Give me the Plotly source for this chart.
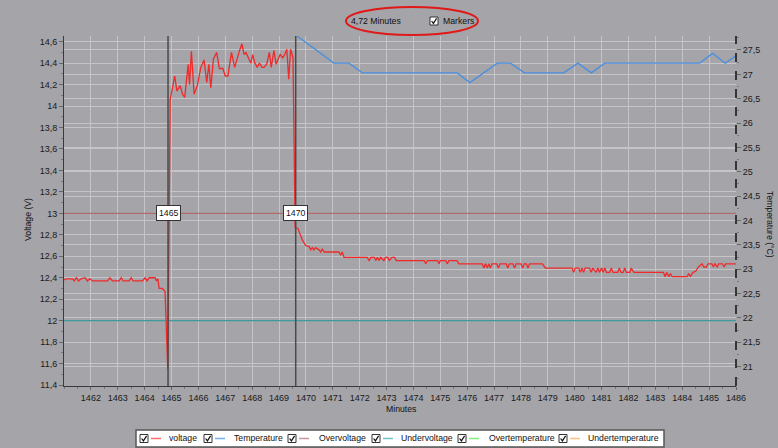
import plotly.graph_objects as go

# ---------------- data ----------------
volt_minutes = [
    1461.00, 1461.07, 1461.32, 1461.38, 1461.46, 1461.54, 1461.63, 1461.79, 1461.87, 1461.96,
    1462.06, 1462.62, 1462.71, 1462.80, 1463.05, 1463.13, 1463.20, 1463.42, 1463.50, 1463.57,
    1463.92, 1464.02, 1464.09, 1464.17, 1464.39, 1464.44, 1464.49, 1464.54, 1464.66, 1464.76,
    1464.86, 1464.95,
    1465.12, 1465.20, 1465.32, 1465.41, 1465.49, 1465.62, 1465.67, 1465.74, 1465.84, 1465.96,
    1466.09, 1466.21, 1466.31, 1466.39, 1466.46, 1466.56, 1466.68, 1466.78, 1466.91, 1467.00,
    1467.10, 1467.23, 1467.35, 1467.43, 1467.52, 1467.62, 1467.70, 1467.77, 1467.85, 1467.95,
    1468.02, 1468.10, 1468.19, 1468.27, 1468.37, 1468.44, 1468.54, 1468.64, 1468.71, 1468.81,
    1468.89, 1469.04, 1469.14, 1469.21, 1469.29, 1469.36, 1469.43, 1469.52, 1469.60,
    1469.70, 1469.87, 1469.99, 1470.12, 1470.18, 1470.24, 1470.30, 1470.36, 1470.49, 1470.55,
    1470.61, 1470.68, 1471.23, 1471.29, 1471.35, 1471.42, 1472.28, 1472.35, 1472.42, 1472.55,
    1472.60, 1472.66, 1472.72, 1472.78, 1472.90, 1472.96, 1473.05, 1473.10, 1473.20, 1473.30,
    1473.36, 1473.47, 1474.40, 1474.46, 1474.52, 1474.90, 1474.95, 1475.00, 1475.20, 1475.26,
    1475.32, 1475.62, 1475.69, 1476.56, 1476.62, 1476.68, 1476.75, 1476.80, 1476.86, 1476.92,
    1477.10, 1477.16, 1477.22, 1477.45, 1477.51, 1477.57, 1477.70, 1477.76, 1477.82, 1478.00,
    1478.06, 1478.12, 1478.20, 1478.26, 1478.32, 1478.80, 1478.91, 1479.90, 1479.96, 1480.02,
    1480.15, 1480.21, 1480.27, 1480.33, 1480.39, 1480.55, 1480.61, 1480.67, 1480.80, 1480.86,
    1480.92, 1481.00, 1481.06, 1481.12, 1481.18, 1481.30, 1481.36, 1481.42, 1481.60, 1481.66,
    1481.72, 1481.80, 1481.86, 1481.92, 1482.05, 1482.10, 1482.20, 1483.30, 1483.36, 1483.42,
    1483.50, 1483.56, 1483.62, 1484.18, 1484.24, 1484.30, 1484.40, 1484.50, 1484.60, 1484.74,
    1484.80, 1484.90, 1484.96, 1485.10, 1485.16, 1485.22, 1485.30, 1485.36, 1485.50, 1485.56,
    1485.62, 1486.00,
]
voltage = [
    12.38, 12.39, 12.39, 12.37, 12.40, 12.37, 12.39, 12.40, 12.37, 12.39,
    12.37, 12.37, 12.40, 12.37, 12.37, 12.40, 12.37, 12.37, 12.40, 12.37,
    12.37, 12.40, 12.37, 12.40, 12.40, 12.37, 12.39, 12.30, 12.30, 12.27,
    11.55, 14.06,
    14.28, 14.14, 14.19, 14.11, 14.08, 14.39, 14.20, 14.51, 14.11, 14.19,
    14.36, 14.43, 14.22, 14.39, 14.17, 14.44, 14.50, 14.35, 14.35, 14.28,
    14.28, 14.50, 14.36, 14.44, 14.51, 14.58, 14.48, 14.50, 14.45, 14.40,
    14.48, 14.40, 14.36, 14.40, 14.36, 14.36, 14.39, 14.50, 14.36, 14.52,
    14.39, 14.48, 14.45, 14.48, 14.53, 14.25, 14.53, 14.45, 12.87,
    12.86, 12.75, 12.70, 12.69, 12.66, 12.68, 12.66, 12.68, 12.66, 12.64,
    12.67, 12.64, 12.64, 12.61, 12.64, 12.59, 12.59, 12.56, 12.59, 12.59,
    12.56, 12.59, 12.56, 12.59, 12.56, 12.59, 12.59, 12.56, 12.59, 12.59,
    12.56, 12.56, 12.56, 12.53, 12.56, 12.56, 12.53, 12.56, 12.56, 12.53,
    12.56, 12.56, 12.53, 12.53, 12.49, 12.53, 12.49, 12.53, 12.49, 12.53,
    12.53, 12.49, 12.53, 12.53, 12.49, 12.53, 12.53, 12.49, 12.53, 12.53,
    12.49, 12.53, 12.53, 12.49, 12.53, 12.53, 12.49, 12.49, 12.45, 12.49,
    12.49, 12.45, 12.49, 12.45, 12.49, 12.49, 12.45, 12.49, 12.45, 12.49,
    12.45, 12.49, 12.45, 12.49, 12.45, 12.45, 12.49, 12.45, 12.45, 12.49,
    12.45, 12.45, 12.49, 12.45, 12.45, 12.49, 12.45, 12.45, 12.41, 12.45,
    12.41, 12.44, 12.41, 12.41, 12.44, 12.41, 12.45, 12.46, 12.50, 12.53,
    12.50, 12.50, 12.53, 12.53, 12.50, 12.53, 12.50, 12.53, 12.53, 12.50,
    12.53, 12.53,
]

temp_minutes = [1469.64, 1471.04, 1471.60, 1472.10, 1475.63, 1476.10, 1477.12, 1477.61,
                1478.13, 1479.59, 1480.12, 1480.62, 1481.12, 1484.65, 1485.13, 1485.60, 1486.00]
temperature = [27.80, 27.23, 27.23, 27.03, 27.03, 26.83, 27.23, 27.23,
               27.03, 27.03, 27.23, 27.03, 27.23, 27.23, 27.43, 27.23, 27.38]

overvoltage = 13.0
undervoltage = 12.0
cursor_minutes = [1464.87, 1469.62]
cursor_labels = ["1465", "1470"]
span_text = "4,72 Minutes"

x_ticks = list(range(1462, 1487))
volt_ticks = [11.4, 11.6, 11.8, 12.0, 12.2, 12.4, 12.6, 12.8, 13.0, 13.2, 13.4, 13.6, 13.8, 14.0, 14.2, 14.4, 14.6]
temp_ticks = [21, 21.5, 22, 22.5, 23, 23.5, 24, 24.5, 25, 25.5, 26, 26.5, 27, 27.5]

legend_names = ["voltage", "Temperature", "Overvoltage", "Undervoltage", "Overtemperature", "Undertemperature"]
legend_colors = ["#ff6e6e", "#6fb2f2", "#c79a9a", "#6cc4c4", "#7fef7f", "#ffc27f"]

# ---------------- layout helpers ----------------
W, H = 778, 448
L, R, T, B = 64, 736, 36, 386
FONT = "Liberation Sans"
BG = "#a4a4a9"
GRID = "#c5c5c9"
TXT = "#111111"
FS = 8.7


def PX(px):
    return (px - L) / (R - L)


def PY(py):
    return (B - py) / (B - T)


fig = go.Figure()

# threshold lines
fig.add_trace(go.Scatter(x=[1461, 1486], y=[overvoltage, overvoltage], mode="lines",
                         line=dict(color="#b05c5c", width=1), hoverinfo="skip"))
fig.add_trace(go.Scatter(x=[1461, 1486], y=[undervoltage, undervoltage], mode="lines",
                         line=dict(color="#3f9c9c", width=1.3), hoverinfo="skip"))

fig.add_trace(go.Scatter(x=volt_minutes, y=voltage, mode="lines", name="voltage",
                         line=dict(color="#f02a2a", width=1.3)))
fig.add_trace(go.Scatter(x=temp_minutes, y=temperature, mode="lines", name="Temperature",
                         yaxis="y2", line=dict(color="#4a8fe0", width=1.3)))

shapes = []
annotations = []


def text_at(px, py, text, xanchor="center", angle=0):
    annotations.append(dict(x=PX(px), y=PY(py), xref="paper", yref="paper", text=text,
                            xanchor=xanchor, yanchor="middle", textangle=angle, showarrow=False,
                            font=dict(family=FONT, size=FS, color=TXT)))


# cursor lines + labels
for cm, cl in zip(cursor_minutes, cursor_labels):
    shapes.append(dict(type="line", xref="x", yref="paper", x0=cm, x1=cm, y0=0, y1=1,
                       line=dict(color="#4a4a4a", width=1.5)))
    annotations.append(dict(x=cm, y=overvoltage, xref="x", yref="y", text=cl, showarrow=False,
                            xanchor="center", yanchor="middle",
                            bgcolor="white", bordercolor="#333333", borderwidth=1, borderpad=2,
                            font=dict(family=FONT, size=FS, color=TXT)))

# right dashed axis
shapes.append(dict(type="line", xref="paper", yref="paper", x0=1, x1=1, y0=0, y1=1,
                   line=dict(color="#111111", width=1.5, dash="dash")))


def checkbox(cx, cy, size=8):
    x0, x1 = cx, cx + size
    y0, y1 = cy - size / 2, cy + size / 2
    shapes.append(dict(type="rect", xref="paper", yref="paper", x0=PX(x0), x1=PX(x1),
                       y0=PY(y1), y1=PY(y0), fillcolor="white",
                       line=dict(color="#333333", width=1)))
    path = "M {:.5f},{:.5f} L {:.5f},{:.5f} L {:.5f},{:.5f}".format(
        PX(x0 + 1.6), PY(cy), PX(x0 + 3.4), PY(cy + 2.4), PX(x0 + 6.6), PY(cy - 2.6))
    shapes.append(dict(type="path", xref="paper", yref="paper", path=path,
                       line=dict(color="#111111", width=1.2)))


# top info
text_at(376, 21, span_text)
checkbox(430, 21)
text_at(441, 21, "Markers", xanchor="left")

# red ellipse
shapes.append(dict(type="circle", xref="paper", yref="paper", x0=PX(346), x1=PX(478),
                   y0=PY(35), y1=PY(7), line=dict(color="#e01818", width=2)))

# axis titles
text_at(28, 220, "Voltage (V)", angle=-90)
text_at(770, 224, "Temperature (°C)", angle=90)
text_at(401, 409, "Minutes")

# custom legend
shapes.append(dict(type="rect", xref="paper", yref="paper", x0=PX(136), x1=PX(664),
                   y0=PY(447), y1=PY(430), fillcolor="white", line=dict(color="#555555", width=1.5)))
leg_check = [140, 204, 288, 372, 458, 559]
leg_text = [167, 232, 317, 399, 487, 586]
for nm, col, cx, tx in zip(legend_names, legend_colors, leg_check, leg_text):
    checkbox(cx, 438.5)
    shapes.append(dict(type="line", xref="paper", yref="paper", x0=PX(cx + 11), x1=PX(cx + 21),
                       y0=PY(438.5), y1=PY(438.5), line=dict(color=col, width=1.5)))
    text_at(tx, 438.5, nm, xanchor="left")

axis_font = dict(family=FONT, size=9, color="#1a1a1a")
fig.update_layout(
    width=W, height=H,
    margin=dict(l=L, r=W - R, t=T, b=H - B, pad=0, autoexpand=False),
    paper_bgcolor=BG, plot_bgcolor=BG,
    showlegend=False,
    separators=", ",
    xaxis=dict(range=[1461, 1486], tickvals=x_ticks, showgrid=True, gridcolor=GRID, gridwidth=1,
               automargin=False,
               zeroline=False, showline=True, linecolor="#3a3a3a", linewidth=1,
               ticks="outside", ticklen=3, tickcolor="#666666", tickfont=axis_font,
               minor=dict(dtick=0.5, ticklen=2, tickcolor="#777777", showgrid=False)),
    yaxis=dict(range=[11.391, 14.653], tickvals=volt_ticks, showgrid=True, gridcolor=GRID, gridwidth=1,
               automargin=False,
               zeroline=False, showline=True, linecolor="#3a3a3a", linewidth=1,
               ticks="outside", ticklen=4, tickcolor="#666666", tickfont=axis_font,
               minor=dict(dtick=0.1, ticklen=2, tickcolor="#777777", showgrid=False)),
    yaxis2=dict(range=[20.604, 27.787], tickvals=temp_ticks, overlaying="y", side="right",
                automargin=False,
                showgrid=True, gridcolor=GRID, gridwidth=1, zeroline=False, showline=False,
                ticks="outside", ticklen=4, tickcolor="#666666", tickfont=axis_font,
                minor=dict(dtick=0.25, ticklen=2, tickcolor="#777777", showgrid=False)),
    shapes=shapes,
    annotations=annotations,
)

fig.write_html(
    "out.html",
    config={"displayModeBar": False},
    post_script="document.body.style.margin='0';document.body.style.padding='0';"
                "document.body.style.overflow='hidden';document.body.style.background='" + BG + "';",
)
